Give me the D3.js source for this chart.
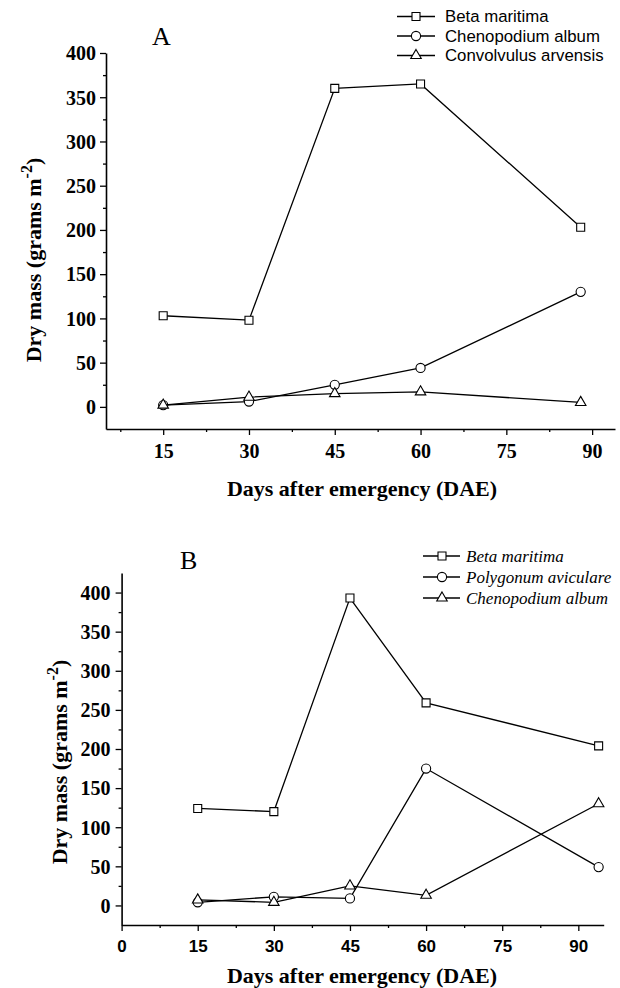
<!DOCTYPE html>
<html>
<head>
<meta charset="utf-8">
<script src="https://cdn.jsdelivr.net/npm/d3@7"></script>
<style>
html,body{margin:0;padding:0;background:#fff;}
svg{display:block;}
</style>
</head>
<body>
<svg id="chart" width="620" height="988"></svg>
<script>
// ---------- data ----------
const daysA = [15, 30, 45, 60, 88];
const betaA = [103, 98, 360, 365, 203];
const chenoA = [2, 6, 25, 44, 130];
const convA = [2, 11, 15, 17, 5];
const namesA = ["Beta maritima", "Chenopodium album", "Convolvulus arvensis"];

const daysB = [15, 30, 45, 60, 94];
const betaB = [124, 120, 393, 259, 204];
const polyB = [4, 11, 9, 175, 49];
const chenoB = [7, 4, 25, 13, 130];
const namesB = ["Beta maritima", "Polygonum aviculare", "Chenopodium album"];

const xTicksA = [15, 30, 45, 60, 75, 90];
const xMinorA = [7.5, 22.5, 37.5, 52.5, 67.5, 82.5];
const xTicksB = [0, 15, 30, 45, 60, 75, 90];
const xMinorB = [7.5, 22.5, 37.5, 52.5, 67.5, 82.5];
const yTicks = [0, 50, 100, 150, 200, 250, 300, 350, 400];
const yMinor = [25, 75, 125, 175, 225, 275, 325, 375];

const yTitle = "Dry mass (grams m";
const xTitle = "Days after emergency (DAE)";

// ---------- setup ----------
const svg = d3.select("#chart");
const SERIF = "'Liberation Serif','Times New Roman',serif";
const SANS = "'Liberation Sans',Arial,sans-serif";
const symbols = [d3.symbolSquare, d3.symbolCircle, d3.symbolTriangle];
const symSizes = [64, 66, 48];

function panel(cfg) {
  const g = svg.append("g");
  const x = d3.scaleLinear().domain(cfg.xDomain).range(cfg.xRange);
  const y = d3.scaleLinear().domain(cfg.yDomain).range(cfg.yRange);
  const x0 = cfg.xRange[0], y0 = cfg.yRange[0];

  // minor ticks
  g.append("g").attr("transform", `translate(0,${y0})`)
    .call(d3.axisBottom(x).tickValues(cfg.xMinor).tickSize(3).tickFormat(""))
    .call(s => s.select(".domain").remove())
    .selectAll("line").attr("stroke-width", 1.3);
  g.append("g").attr("transform", `translate(${x0},0)`)
    .call(d3.axisLeft(y).tickValues(yMinor).tickSize(3).tickFormat(""))
    .call(s => s.select(".domain").remove())
    .selectAll("line").attr("stroke-width", 1.3);

  // major axes
  const gx = g.append("g").attr("transform", `translate(0,${y0})`)
    .call(d3.axisBottom(x).tickValues(cfg.xTicks).tickSize(6).tickSizeOuter(0));
  gx.select(".domain").attr("stroke-width", 1.6);
  gx.selectAll(".tick line").attr("stroke-width", 1.3);
  gx.selectAll(".tick text")
    .attr("font-family", cfg.xFont).attr("font-weight", "bold")
    .attr("font-size", cfg.xFontSize).attr("fill", "#000")
    .attr("dy", null).attr("y", cfg.xLabelDy);

  const gy = g.append("g").attr("transform", `translate(${x0},0)`)
    .call(d3.axisLeft(y).tickValues(yTicks).tickSize(6).tickSizeOuter(0));
  gy.select(".domain").attr("stroke-width", 1.6);
  gy.selectAll(".tick line").attr("stroke-width", 1.3);
  gy.selectAll(".tick text")
    .attr("font-family", SERIF).attr("font-weight", "bold")
    .attr("font-size", 20).attr("fill", "#000")
    .attr("x", cfg.yLabelX).attr("dy", "0.34em");

  // series
  cfg.series.forEach((vals, i) => {
    const pts = cfg.days.map((d, k) => [d, vals[k]]);
    g.append("path").datum(pts)
      .attr("fill", "none").attr("stroke", "#000").attr("stroke-width", 1.3)
      .attr("d", d3.line().x(d => x(d[0])).y(d => y(d[1])));
    g.selectAll(null).data(pts).enter().append("path")
      .attr("transform", d => `translate(${x(d[0])},${y(d[1])})`)
      .attr("d", d3.symbol().type(symbols[i]).size(symSizes[i]))
      .attr("fill", "#fff").attr("stroke", "#000").attr("stroke-width", 1.1);
  });

  // panel letter
  g.append("text").attr("x", cfg.letterPos[0]).attr("y", cfg.letterPos[1])
    .attr("font-family", SERIF).attr("font-size", 26).text(cfg.letter);

  // legend
  cfg.names.forEach((n, i) => {
    const ly = cfg.legY[i];
    g.append("line").attr("x1", cfg.legX[0]).attr("x2", cfg.legX[2])
      .attr("y1", ly).attr("y2", ly).attr("stroke", "#000").attr("stroke-width", 1.3);
    g.append("path").attr("transform", `translate(${cfg.legX[1]},${ly})`)
      .attr("d", d3.symbol().type(symbols[i]).size(symSizes[i]))
      .attr("fill", "#fff").attr("stroke", "#000").attr("stroke-width", 1.1);
    g.append("text").attr("x", cfg.legX[3]).attr("y", ly).attr("dy", "0.35em")
      .attr("font-family", cfg.legFont).attr("font-style", cfg.legStyle)
      .attr("font-size", cfg.legSize).text(n);
  });

  // axis titles
  g.append("text").attr("x", cfg.xTitlePos[0]).attr("y", cfg.xTitlePos[1])
    .attr("text-anchor", "middle").attr("font-family", SERIF)
    .attr("font-weight", "bold").attr("font-size", 22).text(xTitle);

  const yt = g.append("text")
    .attr("transform", `translate(${cfg.yTitlePos[0]},${cfg.yTitlePos[1]}) rotate(-90)`)
    .attr("text-anchor", "middle").attr("font-family", SERIF)
    .attr("font-weight", "bold").attr("font-size", 22);
  yt.append("tspan").text(yTitle);
  yt.append("tspan").attr("dy", -9).attr("font-size", 16).text("-2");
  yt.append("tspan").attr("dy", 9).text(")");
}

panel({
  xDomain: [5, 94], xRange: [106, 615],
  yDomain: [-25, 400], yRange: [429, 53],
  xTicks: xTicksA, xMinor: xMinorA,
  xFont: SERIF, xFontSize: 20, xLabelDy: 29,
  yLabelX: -10,
  days: daysA, series: [betaA, chenoA, convA],
  letter: "A", letterPos: [152, 45],
  names: namesA, legX: [397, 416, 435, 445], legY: [16.5, 36, 55.5],
  legFont: SANS, legStyle: "normal", legSize: 16.8,
  xTitlePos: [362, 496], yTitlePos: [41, 260]
});

panel({
  xDomain: [0, 95], xRange: [121.6, 603.7],
  yDomain: [-25, 425], yRange: [925, 573],
  xTicks: xTicksB, xMinor: xMinorB,
  xFont: SANS, xFontSize: 17, xLabelDy: 27,
  yLabelX: -11,
  days: daysB, series: [betaB, polyB, chenoB],
  letter: "B", letterPos: [180, 569],
  names: namesB, legX: [423, 442, 460, 466], legY: [556, 577, 598],
  legFont: SERIF, legStyle: "italic", legSize: 17,
  xTitlePos: [362, 983], yTitlePos: [67, 762]
});
</script>
</body>
</html>
